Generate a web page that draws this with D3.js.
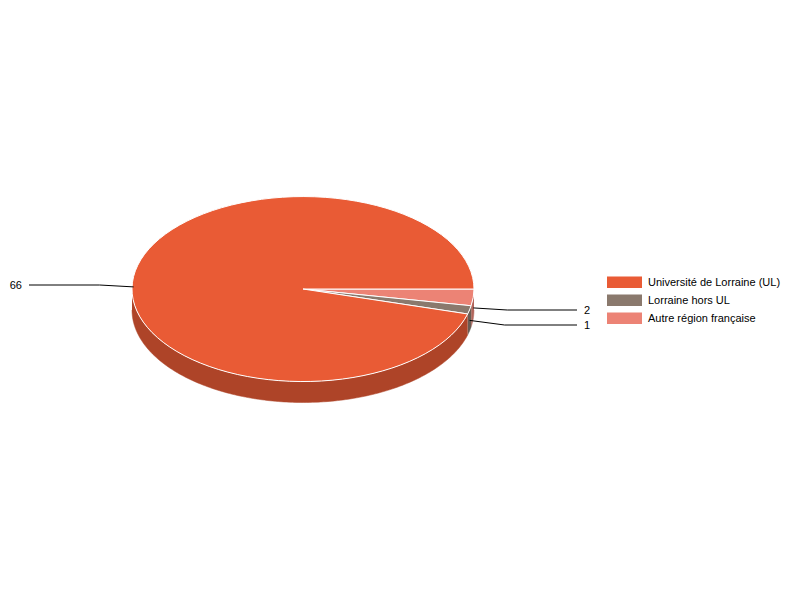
<!DOCTYPE html>
<html><head><meta charset="utf-8">
<script src="https://cdn.jsdelivr.net/npm/d3@7/dist/d3.min.js"></script>
<style>html,body{margin:0;background:#fff}svg{display:block}text{font-family:"Liberation Sans",Arial,sans-serif;font-size:11px;fill:#000}</style>
</head><body><svg id="c" width="800" height="600"></svg>
<script>
const categories = ["Autre région française","Lorraine hors UL","Université de Lorraine (UL)"];
const values = [2,1,66];
const legendOrder = ["Université de Lorraine (UL)","Lorraine hors UL","Autre région française"];
const topColors = ["#EC8375","#8A796D","#E95B35"];
const sideColors = ["#B2655B","#695C53","#AE4428"];

const W=800,H=600,cx=303,cy=289,rx=171,ry=92.5,depth=21;
const svg=d3.select("#c");
const color=d3.scaleOrdinal(categories,topColors), side=d3.scaleOrdinal(categories,sideColors);
const sx=d3.scaleLinear([-1,1],[cx-rx,cx+rx]), sy=d3.scaleLinear([-1,1],[cy-ry,cy+ry]);
const arcs=d3.pie().sort(null).value(d=>d.v).startAngle(Math.PI/2).endAngle(Math.PI*2.5)(categories.map((c,i)=>({c,v:values[i]})));
const pt=(a,dy=0)=>[sx(Math.sin(a)),sy(-Math.cos(a))+dy];
const line=d3.line();

// side walls: only the part of each slice on the near half of the ellipse
arcs.forEach(d=>{
  const a0=Math.max(d.startAngle,Math.PI/2), a1=Math.min(d.endAngle,Math.PI*1.5);
  if(a1<=a0) return;
  const n=Math.max(2,Math.ceil((a1-a0)*60));
  const as=d3.range(n+1).map(i=>a0+(a1-a0)*i/n);
  const pts=as.map(a=>pt(a)).concat(as.slice().reverse().map(a=>pt(a,depth)));
  svg.append("path").attr("d",line(pts)+"Z").attr("fill",side(d.data.c)).attr("stroke","none");
  svg.append("path").attr("d",line(as.map(a=>pt(a,depth)))).attr("fill","none").attr("stroke",side(d.data.c)).attr("stroke-width",.5);
});

// top face
const arcGen=d3.arc().innerRadius(0).outerRadius(1);
const g=svg.append("g").attr("transform",`translate(${cx},${cy}) scale(${rx},${ry})`);
g.selectAll("path").data(arcs).join("path")
  .attr("d",arcGen).attr("fill",d=>color(d.data.c))
  .attr("stroke","#fff").attr("stroke-width",1).attr("stroke-linejoin","round").attr("vector-effect","non-scaling-stroke");

// leader lines
const labelY=[310,325,285], elbow=[34,35,34], labelEdge=[577,577,29], textX=[584,584,22];
arcs.forEach((d,i)=>{
  const m=(d.startAngle+d.endAngle)/2, p=pt(m,depth/2), dir=Math.sin(m)>=0?1:-1;
  svg.append("path").attr("d",line([p,[p[0]+dir*elbow[i],labelY[i]],[labelEdge[i],labelY[i]]]))
    .attr("fill","none").attr("stroke","#000").attr("stroke-width",1);
  svg.append("text").attr("x",textX[i]).attr("y",labelY[i]+4).attr("text-anchor",dir>0?"start":"end").text(d.data.v);
});

// legend
const ly=d3.scalePoint(legendOrder,[276.5,312.5]);
const lg=svg.append("g").selectAll("g").data(legendOrder).join("g");
lg.append("rect").attr("x",607).attr("y",d=>ly(d)).attr("width",35).attr("height",11.5).attr("fill",d=>color(d));
lg.append("text").attr("x",648).attr("y",d=>ly(d)+9).text(d=>d);
</script></body></html>
